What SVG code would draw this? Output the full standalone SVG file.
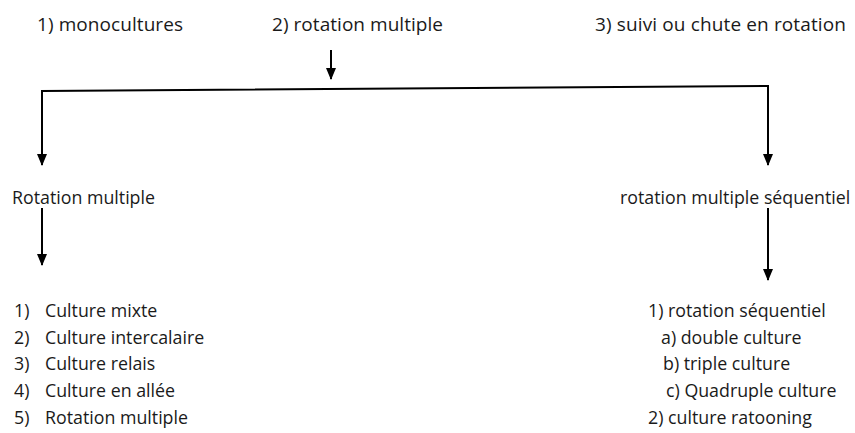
<svg xmlns="http://www.w3.org/2000/svg" width="855" height="433" viewBox="0 0 855 433">
<style>
text{font-family:"Open Sans","Noto Sans",sans-serif;font-size:17.8px;fill:#1a1a1a}
.t{font-size:19px}
.c{stroke:#000;stroke-width:2;fill:none}
</style>
<defs>
<marker id="a" markerWidth="12" markerHeight="12" refX="11" refY="6" orient="auto" markerUnits="userSpaceOnUse" viewBox="0 0 12 12">
<path d="M0,1 L12,6 L0,11 Z" fill="#000"/>
</marker>
</defs>
<rect width="855" height="433" fill="#fff"/>
<g id="n1"><text class="t" x="37" y="31" textLength="146">1) monocultures</text></g>
<g id="n2"><text class="t" x="272" y="31" textLength="171">2) rotation multiple</text></g>
<g id="n3"><text class="t" x="595" y="31" textLength="251">3) suivi ou chute en rotation</text></g>
<g id="n4"><text x="12" y="204">Rotation multiple</text></g>
<g id="n5"><text x="620" y="204">rotation multiple séquentiel</text></g>
<g id="n6">
<text x="14" y="317">1)</text><text x="45" y="317">Culture mixte</text>
<text x="14" y="344">2)</text><text x="45" y="344">Culture intercalaire</text>
<text x="14" y="370">3)</text><text x="45" y="370">Culture relais</text>
<text x="14" y="397">4)</text><text x="45" y="397">Culture en allée</text>
<text x="14" y="424">5)</text><text x="45" y="424">Rotation multiple</text>
</g>
<g id="n7">
<text x="648" y="317">1) rotation séquentiel</text>
<text x="661" y="344">a) double culture</text>
<text x="663" y="370">b) triple culture</text>
<text x="666" y="397">c) Quadruple culture</text>
<text x="648" y="424">2) culture ratooning</text>
</g>
<g id="connectors">
<path class="c" d="M331,50 V79" marker-end="url(#a)"/>
<path class="c" d="M42,165 V91 L768,86 V165"/>
<path class="c" d="M42,150 V165" marker-end="url(#a)"/>
<path class="c" d="M768,150 V165" marker-end="url(#a)"/>
<path class="c" d="M42,208 V265" marker-end="url(#a)"/>
<path class="c" d="M768,208 V280" marker-end="url(#a)"/>
</g>
</svg>
